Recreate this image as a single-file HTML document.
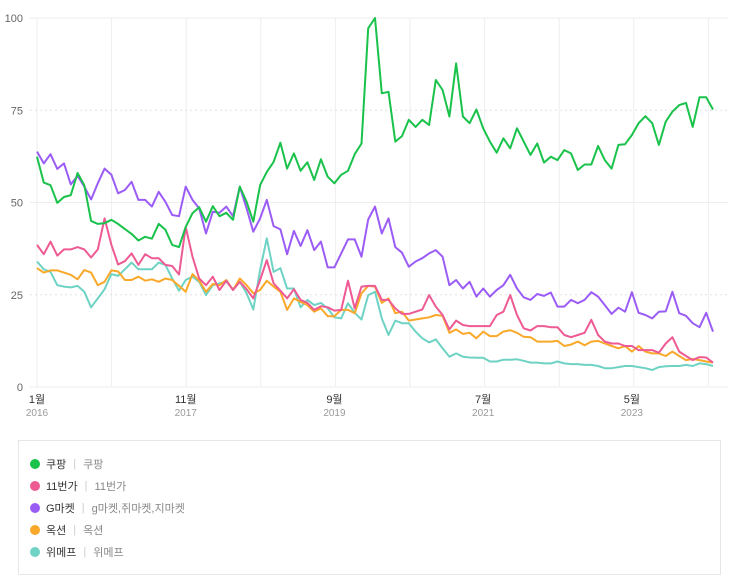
<!DOCTYPE html>
<html><head><meta charset="utf-8">
<style>
body{margin:0;background:#fff;width:743px;height:583px;overflow:hidden;font-family:"Liberation Sans","Noto Sans CJK KR",sans-serif;}
svg{position:absolute;left:0;top:0}
#legend{position:absolute;left:18px;top:440px;width:703px;height:135px;border:1px solid #e6e6e6;box-sizing:border-box}
.li{position:absolute;left:11px;height:16px;font-size:11px;color:#333;display:flex;align-items:center;white-space:nowrap}
.dot{width:10px;height:10px;border-radius:50%;margin-right:6px}
.sep{color:#ccc;margin:0 7px}
.sub{color:#888}
</style></head><body>
<svg id="chart" width="743" height="430"></svg>
<div id="legend">
<div class="li" style="top:15px"><span class="dot" style="background:#19c24a"></span>쿠팡<span class="sep">|</span><span class="sub">쿠팡</span></div>
<div class="li" style="top:37px"><span class="dot" style="background:#ee5a93"></span>11번가<span class="sep">|</span><span class="sub">11번가</span></div>
<div class="li" style="top:59px"><span class="dot" style="background:#9b5cf6"></span>G마켓<span class="sep">|</span><span class="sub">g마켓,쥐마켓,지마켓</span></div>
<div class="li" style="top:81px"><span class="dot" style="background:#f9a82a"></span>옥션<span class="sep">|</span><span class="sub">옥션</span></div>
<div class="li" style="top:103px"><span class="dot" style="background:#6ed3c4"></span>위메프<span class="sep">|</span><span class="sub">위메프</span></div>
</div>
<script>
const coupang=[62.4,55.4,54.7,49.9,51.5,52,58,54.7,45,44.2,44.4,45.3,44.2,42.8,41.5,39.7,40.7,40.2,44.2,42.6,38.5,37.9,43.4,47.1,48.7,44.8,49,46.3,47.2,45.3,54.3,50.2,44.8,54.7,58.3,61,66.2,59.2,63.3,58.6,60.9,56.1,61.7,57,55.2,57.5,58.6,63.1,66,97.2,100,79.6,80,66.5,68,72.4,70.5,72.4,71,83.2,80.5,73.3,87.7,73.3,71.5,75.2,70.1,66.5,63.5,67.4,64.7,70.1,66.5,62.9,66,60.8,62.4,61.5,64.2,63.3,58.8,60.3,60.3,65.3,61.5,59.2,65.6,65.8,68.3,71.5,73.4,71.5,65.6,71.9,74.6,76.4,77,70.5,78.5,78.5,75.2];
const elevenst=[38.5,36,39.4,35.6,37.3,37.3,37.9,37.3,35.1,37.3,45.7,38.5,33.2,34.1,36.2,33.1,36,34.9,34.9,33.1,32.8,30.5,43.4,35.3,29.4,27.6,29.9,26.3,28.8,26.3,28.5,26.5,24,29,34.4,28.1,26.1,24,26.5,23.6,22.8,20.9,21.9,21.6,20.7,20.9,28.8,21.3,27.2,27.4,27.4,23.6,23.6,21.3,19.8,19.8,20.4,21,24.9,21.8,19.5,15.6,18,16.8,16.5,16.5,16.5,16.5,19.5,20.4,24.9,19.5,15.9,15.3,16.5,16.5,16.2,16.2,14.1,13.5,14.1,14.7,18.2,14.1,12.3,11.8,11.8,11.1,11.1,10,10,10,9.3,11.8,13.5,9.6,8.4,7.3,8.1,8,6.6];
const gmarket=[63.8,60.6,63.1,59.1,60.6,54.9,57.2,54.3,50.8,55.2,59.2,57.5,52.5,53.4,55.6,50.7,50.7,48.9,52.9,50.2,46.6,46.3,54.3,50.7,48.4,41.6,47.5,47.2,48.9,46.3,54.3,48.4,42.1,45.7,50.7,43.6,42.7,36,42.3,38.2,42.5,37.1,39.4,32.4,32.4,36.2,40,40,35.3,45.4,48.9,41.6,45.7,37.9,36.4,32.6,34,34.9,36.2,37.1,35.3,27.6,29,26.7,28.5,24.5,26.7,24.5,26.3,27.6,30.4,26.7,24.3,23.6,25.2,24.7,25.6,21.8,21.8,23.6,22.7,23.6,25.7,24.5,22.2,19.8,21.5,20.4,25.7,20.1,19.5,18.6,20.4,20.5,25.8,20,19.3,17.3,16.2,20.1,15];
const auction=[32.2,31,31.6,31.6,31,30.4,29.2,31.7,31,27.6,28.5,31.6,31.3,29,29,29.9,28.8,29.2,28.5,29.4,29,27.4,25.8,30.6,28.8,25.8,27.9,27.6,29,26.3,29.4,27.6,25.4,26.3,28.8,27.2,25.8,20.9,24,23.1,22.2,20.4,21.3,19.2,19.2,20.9,20.9,20,25.4,27.4,27.2,22.8,24,20,20.4,18,18.3,18.6,18.9,19.5,19.3,14.7,15.6,14.4,14.7,13.2,15,13.8,13.8,15,15.4,14.7,13.6,13.5,12.3,12.3,12.3,12.5,11.1,11.5,12.3,11.3,12.3,12.5,11.8,11.1,10.5,11.1,9.6,11.1,9.6,9.1,9.1,8.4,9.6,8.4,7.3,7.6,7.3,6.9,6.6];
const wemakeprice=[34,31.9,31.2,27.6,27.2,27,27.4,25.8,21.6,24,26.5,30.6,30.1,31.9,33.7,31.9,31.9,31.9,33.7,33.1,29.4,26.1,29,29.9,28.5,24.9,27.6,28.1,28.5,26.5,28.5,25.4,21,31.7,40.3,31.2,32.2,26.7,26.7,21.6,23.6,22.2,22.8,21.3,18.9,18.6,22.7,20.1,18.3,24.9,25.8,18.6,14.1,18,17.3,17.3,15,13.2,12.1,12.9,10.5,8.2,9.1,8.2,8,7.9,7.9,6.9,6.9,7.4,7.4,7.5,7.1,6.6,6.6,6.4,6.4,6.9,6.4,6.2,6.2,6,6,5.7,5.1,5.1,5.4,5.7,5.7,5.4,5.1,4.6,5.4,5.6,5.7,5.7,6,5.7,6.4,6.2,5.7];
const yTicks=[0,25,50,75,100];
const xTickIdx=[0,22,44,66,88];
const xTickMonth=["1월","11월","9월","7월","5월"];
const xTickYear=["2016","2017","2019","2021","2023"];

const NS="http://www.w3.org/2000/svg";
const svg=document.getElementById('chart');
const X0=37,STEP=6.76,Y0=387,YH=369;
const xs=i=>X0+i*STEP;
const ys=v=>Y0-v/100*YH;
function mk(t,a){const e=document.createElementNS(NS,t);for(const k in a)e.setAttribute(k,a[k]);svg.appendChild(e);return e;}
for(let k=0;k<10;k++){
  const x=37+k*74.6;
  const g=mk('line',{x1:x,x2:x,y1:18,y2:387,stroke:'#eeeeee','stroke-width':1});
  
  
}
yTicks.forEach(v=>{
  const dotted=(v===25||v===75);
  const l=mk('line',{x1:30,x2:728,y1:ys(v),y2:ys(v),stroke:dotted?'#e0e0e0':'#eeeeee','stroke-width':1,'stroke-dasharray':dotted?'2,3':'none'});
  
  
  const t=mk('text',{x:23,y:ys(v)+4,'text-anchor':'end','font-size':11,fill:'#666'});
  t.textContent=v;
  
  
});
xTickIdx.forEach((idx,k)=>{
  const t=mk('text',{x:xs(idx),y:403,'text-anchor':'middle','font-size':11,fill:'#333'});
  t.textContent=xTickMonth[k];
  
  
  const t2=mk('text',{x:xs(idx),y:416,'text-anchor':'middle','font-size':10,fill:'#999'});
  t2.textContent=xTickYear[k];
  
  
});
const series=[[wemakeprice,'#6ed3c4','line-wemakeprice'],[auction,'#f9a82a','line-auction'],[elevenst,'#ee5a93','line-11st'],[gmarket,'#9b5cf6','line-gmarket'],[coupang,'#19c24a','line-coupang']];
series.forEach(([d,c,n])=>{
  const p=mk('polyline',{points:d.map((v,i)=>xs(i).toFixed(1)+','+ys(v).toFixed(1)).join(' '),fill:'none',stroke:c,'stroke-width':2,'stroke-linejoin':'round'});
  
  
});
</script>
</body></html>
